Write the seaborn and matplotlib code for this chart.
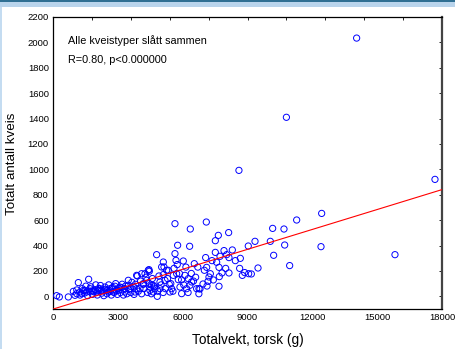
import numpy as np
import pandas as pd
import seaborn as sns
import matplotlib
matplotlib.use("Agg")
import matplotlib.pyplot as plt
from matplotlib.ticker import MultipleLocator
from matplotlib.patches import Rectangle

# Totalvekt, torsk (g)  /  Totalt antall kveis
weight = [
    169, 293, 709, 941, 1172, 1650,
    1018, 1326, 1403, 1557, 1789, 1943, 2020, 2174, 2328, 2405, 2560, 2714, 2868,
    3022, 3176, 3331, 3485, 3562, 3716, 3793, 3901, 4024, 4179, 4256, 4333, 4410,
    4456, 4487, 4564, 4641, 4718, 4795, 4826, 4950, 5027, 5104, 5181, 5258, 5335,
    5381, 5412, 5489, 5566, 5644, 5644, 5690, 5721, 5767, 5798, 5875, 5952, 6029,
    6106, 6183, 6260, 6322, 6337, 6353, 6415, 6538, 6646, 6754,
    1095, 1249, 1480, 1711, 1866, 2097, 2251, 2482, 2637, 2791, 2945, 3099, 3330,
    3870, 4178, 4487, 4641, 4949, 3485, 3870, 4102, 4441, 5104, 5135,
    1100, 1250, 1350, 1450, 1520, 1600, 1680, 1750, 1820, 1900, 1980, 2050, 2120,
    2200, 2260, 2350, 2420, 2500, 2580, 2650, 2700, 2760, 2830, 2900, 2980, 3050,
    3120, 3200, 3260, 3350, 3420, 3500, 3600, 3650, 3750, 3820, 3950, 4050, 4100,
    4200, 4300, 4380, 4450, 4550, 4600, 4700, 4850, 4900, 5000, 5100, 5200, 5300,
    5450, 5550, 5600, 5750, 5850, 5950, 6050, 6150, 6250, 6400, 6500, 6600, 6700,
    6750,
    6802, 6941, 7003, 7064, 7094, 7110, 7126, 7172, 7218, 7280, 7357, 7418, 7511,
    7511, 7573, 7650, 7681, 7681, 7696, 7727, 7820, 7913, 7990, 8036, 8128, 8143,
    8143, 8298, 8437, 8604, 8637, 8668, 8760, 8868, 9036, 9054, 9177, 9347, 9486,
    10056, 10164, 10210, 10800, 10688, 10720, 10951, 11275, 12401, 12432, 14050,
    15824, 17675,
]
kveis = [
    5, -5, -5, 39, 108, 134,
    8, 21, 47, 34, 42, 52, 34, 60, 42, 73, 34, 60, 79,
    47, 68, 34, 87, 60, 79, 34, 160, 60, 94, 178, 126, 205,
    197, 47, 87, 34, 60, 328, 0, 113, 231, 171, 126, 205, 205,
    94, 34, 60, 165, 572, 336, 283, 178, 402, 131, 73, 21, 278,
    165, 60, 139, 394, 87, 530, 113, 257, 60, 60,
    21, 34, 47, 60, 42, 60, 47, 47, 60, 34, 47, 73, 60,
    60, 100, 73, 86, 60, 126, 165, 178, 210, 270, 231,
    50, 10, 60, 25, 80, 5, 40, 75, 15, 35, 90, 10, 45,
    85, 25, 5, 55, 20, 90, 40, 10, 70, 30, 100, 15, 65,
    30, 95, 10, 80, 20, 55, 30, 110, 15, 95, 40, 120, 20,
    60, 150, 30, 100, 20, 140, 75, 40, 160, 90, 30, 60, 140,
    100, 40, 220, 250, 180, 130, 90, 230, 30, 180, 120, 150, 230,
    20,
    58, 97, 205, 305, 585, 228, 81, 118, 152, 178, 281, 129, 438,
    346, 268, 480, 79, 228, 155, 315, 184, 360, 220, 328, 502, 184,
    305, 365, 281, 992, 220, 299, 165, 187, 396, 178, 176, 433, 223,
    433, 535, 323, 1410, 530, 404, 242, 601, 391, 653, 2034,
    328, 921,
]

annot_title = "Alle kveistyper slått sammen"
annot_stat = "R=0.80, p<0.000000"
x_label = "Totalvekt, torsk (g)"
y_label = "Totalt antall kveis"

sns.set_theme(style="white")
plt.rcParams["font.family"] = ["Liberation Sans", "DejaVu Sans"]

W, H = 455, 349
fig = plt.figure(figsize=(W / 100, H / 100), dpi=100)
fig.patch.set_facecolor("white")

# window-like frame decorations
fig.patches.append(Rectangle((0, 1 - 2 / H), 1, 2 / H, transform=fig.transFigure,
                             facecolor="#2f6f93", edgecolor="none", zorder=0))
fig.patches.append(Rectangle((0, 1 - 7 / H), 1, 5 / H, transform=fig.transFigure,
                             facecolor="#b9d4ec", edgecolor="none", zorder=0))
fig.patches.append(Rectangle((0, 0), 2 / W, 1 - 7 / H, transform=fig.transFigure,
                             facecolor="#c4dcf1", edgecolor="none", zorder=0))

ax = fig.add_axes([53 / W, 1 - 309 / H, 389 / W, 292 / H])
ax.set_facecolor("white")

df = pd.DataFrame({"weight": weight, "kveis": kveis})
ax.set_xlim(0, 18000)
ax.set_ylim(-100, 2200)

sns.scatterplot(data=df, x="weight", y="kveis", ax=ax, marker="o", s=20,
                facecolors="none", edgecolors="#0000ff", linewidth=0.7, zorder=3)
sns.regplot(data=df, x="weight", y="kveis", ax=ax, scatter=False, ci=None,
            truncate=False, line_kws=dict(color="#ff0000", lw=0.8, zorder=4))

ax.set_xlim(0, 18000)
ax.set_ylim(-100, 2200)

ax.xaxis.set_major_locator(MultipleLocator(3000))
ax.xaxis.set_minor_locator(MultipleLocator(1500))
ax.set_yticks(np.arange(0, 2201, 200))
ax.yaxis.set_minor_locator(MultipleLocator(100))
ax.set_ylim(-100, 2200)

ax.tick_params(axis="both", which="both", direction="in", color="black",
               labelsize=6.8, labelcolor="black", width=0.6)
ax.tick_params(axis="both", which="major", length=2.5, pad=3)
ax.tick_params(axis="both", which="minor", length=1.8)

sec_x = ax.secondary_xaxis("top")
sec_x.xaxis.set_major_locator(MultipleLocator(1800))
sec_x.tick_params(direction="in", length=2.2, width=0.6, labeltop=False, color="black")
sec_y = ax.secondary_yaxis("right")
sec_y.yaxis.set_major_locator(MultipleLocator(200))
sec_y.tick_params(direction="in", length=2.2, width=0.6, labelright=False, color="black")
for s in sec_x.spines.values():
    s.set_visible(False)
for s in sec_y.spines.values():
    s.set_visible(False)

for name, sp in ax.spines.items():
    sp.set_visible(True)
    sp.set_color("black")
    sp.set_linewidth(0.9)
ax.spines["right"].set_linewidth(1.6)
ax.spines["right"].set_color("#444444")

ax.set_xlabel("")
ax.set_ylabel("")
fig.text(248 / W, 1 - 340 / H, x_label, fontsize=9.8, color="black",
         ha="center", va="center")
fig.text(12 / W, 1 - 164 / H, y_label, fontsize=9.6, color="black",
         ha="center", va="center", rotation=90)

ax.text(0.039, 0.918, annot_title, transform=ax.transAxes, fontsize=7.8,
        va="center", ha="left", color="black")
ax.text(0.039, 0.853, annot_stat, transform=ax.transAxes, fontsize=7.8,
        va="center", ha="left", color="black")

fig.savefig("out.png", dpi=100)
